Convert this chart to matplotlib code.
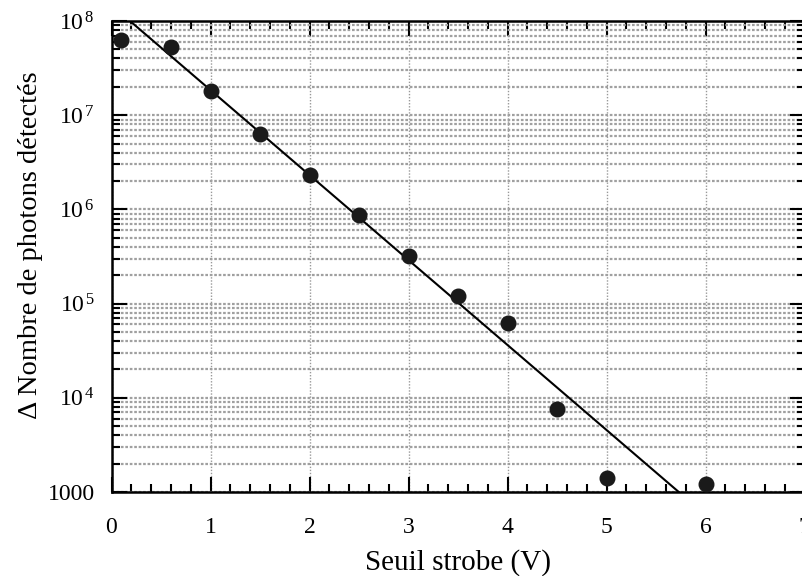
import numpy as np
import matplotlib
matplotlib.use("Agg")
import matplotlib.pyplot as plt
from matplotlib.ticker import FixedLocator, MultipleLocator, LogLocator, NullFormatter, FuncFormatter

# donnees
seuil = [0.1, 0.6, 1.0, 1.5, 2.0, 2.5, 3.0, 3.5, 4.0, 4.5, 5.0, 6.0]
photons = [6.3e7, 5.35e7, 1.81e7, 6.27e6, 2.32e6, 8.7e5, 3.23e5, 1.21e5, 6.27e4, 7.6e3, 1.40e3, 1.22e3]
# droite d'ajustement (exponentielle)
fit_x = [0.187, 5.73]
fit_y = [1e8, 1e3]
xticks = [0, 1, 2, 3, 4, 5, 6, 7]

plt.rcParams['font.family'] = ['Liberation Serif', 'DejaVu Serif']
plt.rcParams['mathtext.fontset'] = 'custom'
plt.rcParams['mathtext.rm'] = 'Liberation Serif'
plt.rcParams['mathtext.it'] = 'Liberation Serif:italic'

fig = plt.figure(figsize=(8.02, 5.76), dpi=100)
ax = fig.add_axes([111.5/802, 1-492/576, 693/802, 471/576])

ax.set_yscale('log')
ax.set_xlim(0, 7)
ax.set_ylim(1e3, 1e8)

#grille
ax.xaxis.grid(True, which='major', color='#999999', linestyle=(0, (1, 1.2)), linewidth=1.0)
ax.yaxis.grid(True, which='both', color='#a0a0a0', linestyle=(0, (1.2, 0.8)), linewidth=1.6)
ax.set_axisbelow(True)

ax.plot(fit_x, fit_y, color='black', linewidth=1.5, zorder=3)
ax.plot(seuil, photons, 'o', color='#1a1a1a', markersize=10.5, zorder=4)

ax.xaxis.set_major_locator(FixedLocator(xticks))
ax.xaxis.set_minor_locator(MultipleLocator(0.2))
ax.yaxis.set_major_locator(LogLocator(base=10, numticks=10))
ax.yaxis.set_minor_locator(LogLocator(base=10, subs=np.arange(2, 10), numticks=20))
ax.yaxis.set_minor_formatter(NullFormatter())

def fmt_y(v, pos):
    e = int(round(np.log10(v)))
    if e == 3:
        return '1000'
    return r'$10^{\,%d}$' % e
ax.yaxis.set_major_formatter(FuncFormatter(fmt_y))

ax.tick_params(which='both', direction='in', top=True, right=True, width=1.5, labelsize=17, colors='black')
ax.tick_params(which='major', length=11)
ax.tick_params(which='minor', length=6)
ax.tick_params(axis='x', which='major', pad=18)
ax.tick_params(axis='y', which='major', pad=12)

for s in ax.spines.values():
    s.set_linewidth(1.8)

ax.set_xlabel('Seuil strobe (V)', fontsize=21, labelpad=8)
ax.set_ylabel('Δ Nombre de photons détectés', fontsize=20.5)
ax.yaxis.set_label_coords(-0.099, 0.525)

fig.savefig('out.png', dpi=100)
